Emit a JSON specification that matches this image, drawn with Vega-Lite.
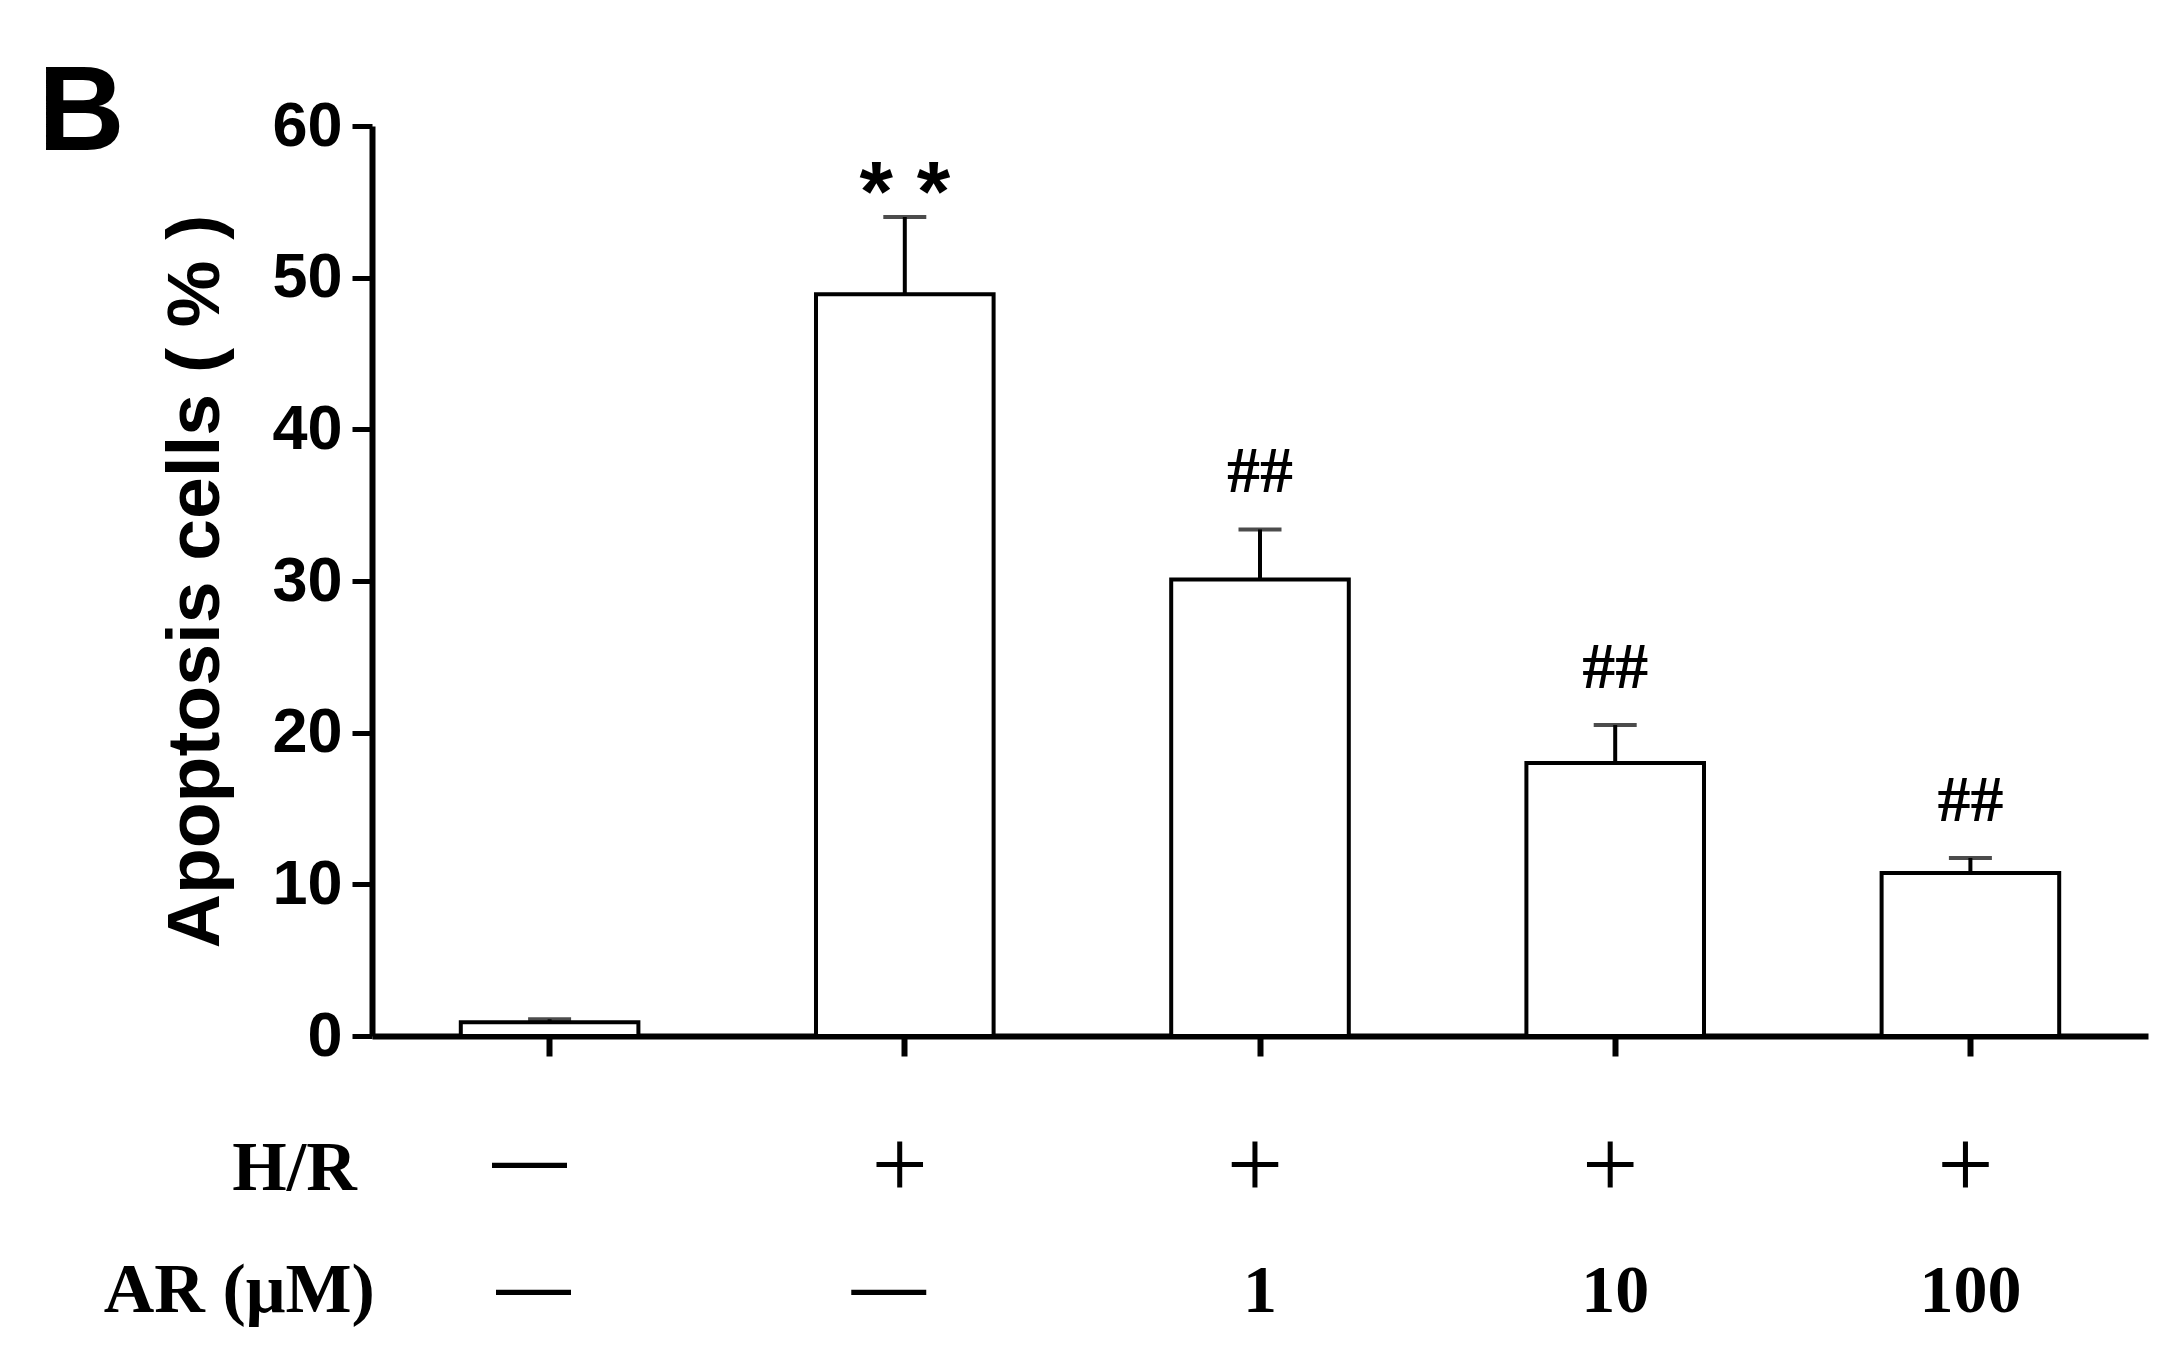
{
  "$schema": "https://vega.github.io/schema/vega-lite/v6.json",
  "width": 1776,
  "height": 910,
  "autosize": {"type": "none"},
  "padding": {"left": 372, "top": 126, "right": 29, "bottom": 328},
  "background": "white",
  "title": {"text": "B", "anchor": "start", "frame": "group", "font": "Liberation Sans", "fontSize": 120, "fontWeight": "bold", "color": "black", "dx": -334, "dy": 84},
  "config": {"view": {"stroke": null}},
  "data": {
    "values": [
      {"group": "Control", "hr": "—", "ar": "—", "mean": 0.9, "upper": 1.1, "sig": ""},
      {"group": "H/R", "hr": "+", "ar": "—", "mean": 48.9, "upper": 54.0, "sig": "**"},
      {"group": "H/R + AR 1", "hr": "+", "ar": "1", "mean": 30.1, "upper": 33.4, "sig": "##"},
      {"group": "H/R + AR 10", "hr": "+", "ar": "10", "mean": 18.0, "upper": 20.5, "sig": "##"},
      {"group": "H/R + AR 100", "hr": "+", "ar": "100", "mean": 10.75, "upper": 11.74, "sig": "##"}
    ]
  },
  "encoding": {
    "x": {
      "field": "group", "type": "nominal", "sort": null,
      "scale": {"paddingInner": 0.5, "paddingOuter": 0.25},
      "axis": {"title": null, "labels": false, "domainWidth": 6, "domainColor": "black", "tickWidth": 6, "tickSize": 20, "tickColor": "black"}
    }
  },
  "layer": [
    {
      "mark": {"type": "bar", "fill": "white", "stroke": "black", "strokeWidth": 4},
      "encoding": {
        "y": {
          "field": "mean", "type": "quantitative",
          "scale": {"domain": [0, 60], "nice": false},
          "axis": {
            "values": [0, 10, 20, 30, 40, 50, 60],
            "grid": false,
            "title": "Apoptosis cells ( % )",
            "titleFont": "Liberation Sans", "titleFontSize": 75, "titleFontWeight": "bold", "titleColor": "black", "titlePadding": 37,
            "labelFont": "Liberation Sans", "labelFontSize": 63, "labelFontWeight": "bold", "labelColor": "black", "labelPadding": 10,
            "tickSize": 20, "tickWidth": 5, "tickColor": "black",
            "domainWidth": 6, "domainColor": "black"
          }
        }
      }
    },
    {
      "mark": {"type": "rule", "color": "black", "strokeWidth": 4},
      "encoding": {
        "y": {"field": "mean", "type": "quantitative"},
        "y2": {"field": "upper"}
      }
    },
    {
      "mark": {"type": "tick", "color": "black", "size": 43, "thickness": 4, "orient": "horizontal"},
      "encoding": {
        "y": {"field": "upper", "type": "quantitative"}
      }
    },
    {
      "transform": [{"filter": "datum.sig === '**'"}],
      "mark": {"type": "text", "font": "Liberation Sans", "fontWeight": "bold", "fontSize": 86, "baseline": "alphabetic", "align": "center", "dy": 4, "color": "black"},
      "encoding": {
        "y": {"field": "upper", "type": "quantitative"},
        "text": {"value": "* *"}
      }
    },
    {
      "transform": [{"filter": "datum.sig === '##'"}],
      "mark": {"type": "text", "font": "Liberation Serif", "fontWeight": "bold", "fontSize": 66, "baseline": "alphabetic", "align": "center", "dy": -37, "color": "black"},
      "encoding": {
        "y": {"field": "upper", "type": "quantitative"},
        "text": {"field": "sig"}
      }
    },
    {
      "transform": [{"filter": "datum.hr === '+'"}],
      "mark": {"type": "text", "font": "Liberation Serif", "fontWeight": "normal", "fontSize": 100, "baseline": "alphabetic", "align": "center", "dx": -5, "dy": 8, "color": "black"},
      "encoding": {
        "y": {"datum": -10.15, "type": "quantitative"},
        "text": {"field": "hr"}
      }
    },
    {
      "transform": [{"filter": "datum.hr !== '+'"}],
      "mark": {"type": "text", "font": "Liberation Serif", "fontWeight": "bold", "fontSize": 74, "baseline": "alphabetic", "align": "center", "dx": -20, "dy": -7, "color": "black"},
      "encoding": {
        "y": {"datum": -10.15, "type": "quantitative"},
        "text": {"field": "hr"}
      }
    },
    {
      "transform": [{"filter": "datum.ar === '—'"}],
      "mark": {"type": "text", "font": "Liberation Serif", "fontWeight": "bold", "fontSize": 74, "baseline": "alphabetic", "align": "center", "dx": -16, "dy": -2, "color": "black"},
      "encoding": {
        "y": {"datum": -18.2, "type": "quantitative"},
        "text": {"field": "ar"}
      }
    },
    {
      "transform": [{"filter": "datum.ar !== '—'"}],
      "mark": {"type": "text", "font": "Liberation Serif", "fontWeight": "bold", "fontSize": 68, "baseline": "alphabetic", "align": "center", "color": "black"},
      "encoding": {
        "y": {"datum": -18.2, "type": "quantitative"},
        "text": {"field": "ar"}
      }
    },
    {
      "transform": [{"filter": "datum.group === 'Control'"}],
      "mark": {"type": "text", "font": "Liberation Serif", "fontWeight": "bold", "fontSize": 70, "baseline": "alphabetic", "align": "right", "dx": -104, "color": "black"},
      "encoding": {
        "x": {"field": "group", "type": "nominal", "bandPosition": 0},
        "y": {"datum": -10.15, "type": "quantitative"},
        "text": {"value": "H/R"}
      }
    },
    {
      "transform": [{"filter": "datum.group === 'Control'"}],
      "mark": {"type": "text", "font": "Liberation Serif", "fontWeight": "bold", "fontSize": 70, "baseline": "alphabetic", "align": "right", "dx": -86, "color": "black"},
      "encoding": {
        "x": {"field": "group", "type": "nominal", "bandPosition": 0},
        "y": {"datum": -18.2, "type": "quantitative"},
        "text": {"value": "AR (μM)"}
      }
    }
  ]
}
